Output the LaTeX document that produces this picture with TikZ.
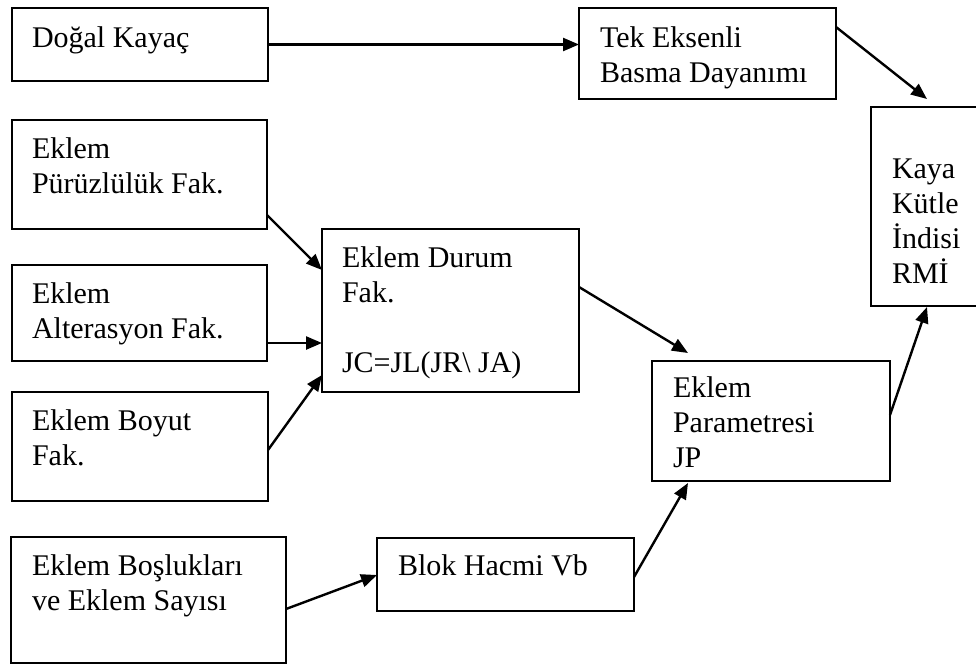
\documentclass[tikz,border=0pt]{standalone}
\usepackage{fontspec}
\setmainfont{Liberation Serif}
\usetikzlibrary{arrows.meta,calc}
\tikzset{
  box/.style={draw=black, line width=2pt, inner sep=0pt, outer sep=0pt, anchor=north west, fill=white},
  txt/.style={anchor=base west, inner sep=0pt, outer sep=0pt, align=left, font=\fontsize{30}{35}\selectfont},
  conn/.style={draw=black, line width=2.4pt, -{Triangle[length=16pt,width=13pt]}}
}
\begin{document}
\begin{tikzpicture}[x=1pt,y=-1pt]
\useasboundingbox[fill=white] (0,0) rectangle (976,665);
% boxes
\node[box, minimum width=256pt, minimum height=73pt] (dogal) at (12,8) {};
\node[box, minimum width=257pt, minimum height=91pt] (tek) at (579,8) {};
\node[box, minimum width=114pt, minimum height=199pt] (rmi) at (871,107) {};
\node[box, minimum width=255pt, minimum height=109pt] (pur) at (12,120) {};
\node[box, minimum width=255pt, minimum height=96pt] (alt) at (12,265) {};
\node[box, minimum width=256pt, minimum height=109pt] (boy) at (12,392) {};
\node[box, minimum width=257pt, minimum height=163pt] (durum) at (322,229) {};
\node[box, minimum width=238pt, minimum height=120pt] (jp) at (652,361) {};
\node[box, minimum width=275pt, minimum height=126pt] (bos) at (11,537) {};
\node[box, minimum width=257pt, minimum height=73pt] (blok) at (377,538) {};
% texts (anchored at the baseline of their last line)
\node[txt] (dogalt) at (32,47) {Doğal Kayaç};
\node[txt] (tekt) at (600,82) {Tek Eksenli\\Basma Dayanımı};
\node[txt] (rmit) at (892,283) {Kaya\\Kütle\\İndisi\\RMİ};
\node[txt] (purt) at (32,193) {Eklem\\Pürüzlülük Fak.};
\node[txt] (altt) at (32,338) {Eklem\\Alterasyon Fak.};
\node[txt] (boyt) at (32,465) {Eklem Boyut\\Fak.};
\node[txt] (durumt) at (342,372) {Eklem Durum\\Fak.\\[35pt]JC=JL(JR\textbackslash\ JA)};
\node[txt] (jpt) at (673,467) {Eklem\\Parametresi\\JP};
\node[txt] (bost) at (32,610) {Eklem Boşlukları\\ve Eklem Sayısı};
\node[txt] (blokt) at (398,575) {Blok Hacmi Vb};
% connectors
\draw[conn] (dogal.east) -- (dogal.east -| tek.west);
\draw[conn] ($(tek.north east)+(0,19)$) -- ($(rmi.north west)+(56,-8)$);
\draw[conn] ($(pur.north east)+(0,95)$) -- ($(durum.north west)+(0,41)$);
\draw[conn] ($(alt.north east)+(0,78)$) -- ($(durum.north west)+(0,114)$);
\draw[conn] ($(boy.north east)+(0,58)$) -- ($(durum.north west)+(0,146)$);
\draw[conn] ($(durum.north east)+(0,58)$) -- ($(jp.north west)+(36,-8)$);
\draw[conn] ($(bos.north east)+(0,72)$) -- ($(blok.north west)+(0,37)$);
\draw[conn] ($(blok.north east)+(0,39)$) -- ($(jp.south west)+(36,2)$);
\draw[conn] ($(jp.north east)+(0,54)$) -- ($(rmi.south west)+(56,1)$);
\end{tikzpicture}
\end{document}
